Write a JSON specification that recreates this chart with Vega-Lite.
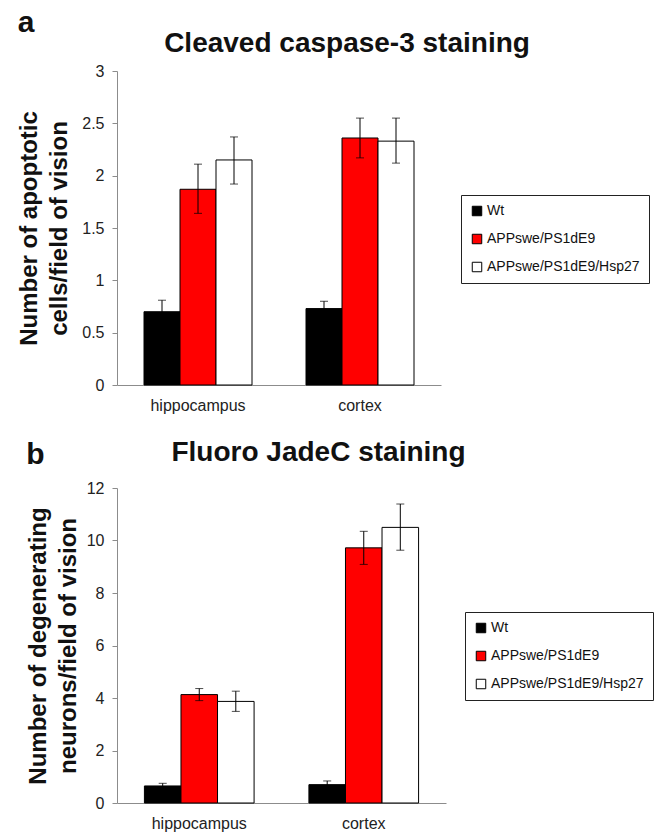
{
  "$schema": "https://vega.github.io/schema/vega-lite/v6.json",
  "padding": {"left": 17, "top": 8, "right": 5, "bottom": 5},
  "background": "white",
  "config": {
    "font": "Liberation Sans",
    "view": {"stroke": null},
    "axis": {"labelFont": "Liberation Sans", "titleFont": "Liberation Sans", "labelColor": "#222", "titleColor": "#111", "domainColor": "#8c8c8c", "tickColor": "#8c8c8c", "grid": false},
    "title": {"font": "Liberation Sans", "fontWeight": "bold", "color": "#111"},
    "legend": {"labelFont": "Liberation Sans"}
  },
  "datasets": {
    "a": [
      {"region": "hippocampus", "group": "Wt", "value": 0.70, "lo": 0.59, "hi": 0.81},
      {"region": "hippocampus", "group": "APPswe/PS1dE9", "value": 1.87, "lo": 1.64, "hi": 2.11},
      {"region": "hippocampus", "group": "APPswe/PS1dE9/Hsp27", "value": 2.15, "lo": 1.92, "hi": 2.37},
      {"region": "cortex", "group": "Wt", "value": 0.73, "lo": 0.655, "hi": 0.80},
      {"region": "cortex", "group": "APPswe/PS1dE9", "value": 2.36, "lo": 2.17, "hi": 2.55},
      {"region": "cortex", "group": "APPswe/PS1dE9/Hsp27", "value": 2.33, "lo": 2.12, "hi": 2.55}
    ],
    "b": [
      {"region": "hippocampus", "group": "Wt", "value": 0.65, "lo": 0.55, "hi": 0.75},
      {"region": "hippocampus", "group": "APPswe/PS1dE9", "value": 4.13, "lo": 3.90, "hi": 4.36},
      {"region": "hippocampus", "group": "APPswe/PS1dE9/Hsp27", "value": 3.87, "lo": 3.49, "hi": 4.26},
      {"region": "cortex", "group": "Wt", "value": 0.70, "lo": 0.57, "hi": 0.84},
      {"region": "cortex", "group": "APPswe/PS1dE9", "value": 9.72, "lo": 9.09, "hi": 10.35},
      {"region": "cortex", "group": "APPswe/PS1dE9/Hsp27", "value": 10.50, "lo": 9.63, "hi": 11.39}
    ]
  },
  "resolve": {"scale": {"color": "independent", "x": "independent", "y": "independent", "xOffset": "independent"}},
  "spacing": 26,
  "vconcat": [
    {
      "title": {"text": "a", "anchor": "start", "frame": "bounds", "fontSize": 30, "offset": -8},
      "vconcat": [
        {
          "title": {"text": "Cleaved caspase-3 staining", "fontSize": 28, "anchor": "middle", "frame": "group", "dx": 68, "offset": 5},
          "width": 324,
          "height": 314,
          "data": {"name": "a"},
          "encoding": {
            "x": {"field": "region", "type": "nominal", "sort": ["hippocampus", "cortex"],
              "scale": {"paddingInner": 0, "paddingOuter": 0},
              "axis": {"title": null, "labelAngle": 0, "ticks": false, "labelPadding": 12, "labelFontSize": 16}},
            "xOffset": {"field": "group", "type": "nominal", "sort": ["Wt", "APPswe/PS1dE9", "APPswe/PS1dE9/Hsp27"],
              "scale": {"paddingInner": 0, "paddingOuter": 0.75}}
          },
          "layer": [
            {
              "mark": {"type": "bar", "stroke": "black", "strokeWidth": 1},
              "encoding": {
                "y": {"field": "value", "type": "quantitative",
                  "scale": {"domain": [0, 3], "nice": false},
                  "axis": {"values": [0, 0.5, 1, 1.5, 2, 2.5, 3], "format": "~g", "tickSize": 5, "labelPadding": 8, "labelFontSize": 16,
                    "title": ["Number of apoptotic", "cells/field of vision"], "titleFontSize": 24, "titleFontWeight": "bold", "titleLineHeight": 30, "titlePadding": 10}},
                "color": {"field": "group", "type": "nominal",
                  "scale": {"domain": ["Wt", "APPswe/PS1dE9", "APPswe/PS1dE9/Hsp27"], "range": ["#000000", "#ff0000", "#ffffff"]},
                  "legend": {"title": null, "orient": "none", "legendX": 344, "legendY": 124, "strokeColor": "#222", "fillColor": "white", "padding": 9,
                    "symbolType": "square", "symbolSize": 90, "symbolStrokeColor": "black", "symbolStrokeWidth": 1, "symbolOpacity": 1,
                    "labelFontSize": 14, "labelColor": "#111", "labelOffset": 3, "rowPadding": 14}}
              }
            },
            {
              "mark": {"type": "rule", "color": "black", "strokeWidth": 1},
              "encoding": {"y": {"field": "lo", "type": "quantitative"}, "y2": {"field": "hi"}}
            },
            {
              "mark": {"type": "tick", "color": "black", "thickness": 1, "size": 8, "orient": "horizontal"},
              "encoding": {"y": {"field": "lo", "type": "quantitative"}}
            },
            {
              "mark": {"type": "tick", "color": "black", "thickness": 1, "size": 8, "orient": "horizontal"},
              "encoding": {"y": {"field": "hi", "type": "quantitative"}}
            }
          ]
        }
      ]
    },
    {
      "title": {"text": "b", "anchor": "start", "frame": "bounds", "fontSize": 30, "offset": -31},
      "vconcat": [
        {
          "title": {"text": "Fluoro JadeC staining", "fontSize": 28, "anchor": "middle", "frame": "group", "dx": 37, "offset": 13},
          "width": 329,
          "height": 315,
          "data": {"name": "b"},
          "encoding": {
            "x": {"field": "region", "type": "nominal", "sort": ["hippocampus", "cortex"],
              "scale": {"paddingInner": 0, "paddingOuter": 0},
              "axis": {"title": null, "labelAngle": 0, "ticks": false, "labelPadding": 12, "labelFontSize": 16}},
            "xOffset": {"field": "group", "type": "nominal", "sort": ["Wt", "APPswe/PS1dE9", "APPswe/PS1dE9/Hsp27"],
              "scale": {"paddingInner": 0, "paddingOuter": 0.75}}
          },
          "layer": [
            {
              "mark": {"type": "bar", "stroke": "black", "strokeWidth": 1},
              "encoding": {
                "y": {"field": "value", "type": "quantitative",
                  "scale": {"domain": [0, 12], "nice": false},
                  "axis": {"values": [0, 2, 4, 6, 8, 10, 12], "format": "~g", "tickSize": 5, "labelPadding": 8, "labelFontSize": 16,
                    "title": ["Number of degenerating", "neurons/field of vision"], "titleFontSize": 24, "titleFontWeight": "bold", "titleLineHeight": 30, "titlePadding": 6}},
                "color": {"field": "group", "type": "nominal",
                  "scale": {"domain": ["Wt", "APPswe/PS1dE9", "APPswe/PS1dE9/Hsp27"], "range": ["#000000", "#ff0000", "#ffffff"]},
                  "legend": {"title": null, "orient": "none", "legendX": 348, "legendY": 124, "strokeColor": "#222", "fillColor": "white", "padding": 9,
                    "symbolType": "square", "symbolSize": 90, "symbolStrokeColor": "black", "symbolStrokeWidth": 1, "symbolOpacity": 1,
                    "labelFontSize": 14, "labelColor": "#111", "labelOffset": 3, "rowPadding": 14}}
              }
            },
            {
              "mark": {"type": "rule", "color": "black", "strokeWidth": 1},
              "encoding": {"y": {"field": "lo", "type": "quantitative"}, "y2": {"field": "hi"}}
            },
            {
              "mark": {"type": "tick", "color": "black", "thickness": 1, "size": 8, "orient": "horizontal"},
              "encoding": {"y": {"field": "lo", "type": "quantitative"}}
            },
            {
              "mark": {"type": "tick", "color": "black", "thickness": 1, "size": 8, "orient": "horizontal"},
              "encoding": {"y": {"field": "hi", "type": "quantitative"}}
            }
          ]
        }
      ]
    }
  ]
}
